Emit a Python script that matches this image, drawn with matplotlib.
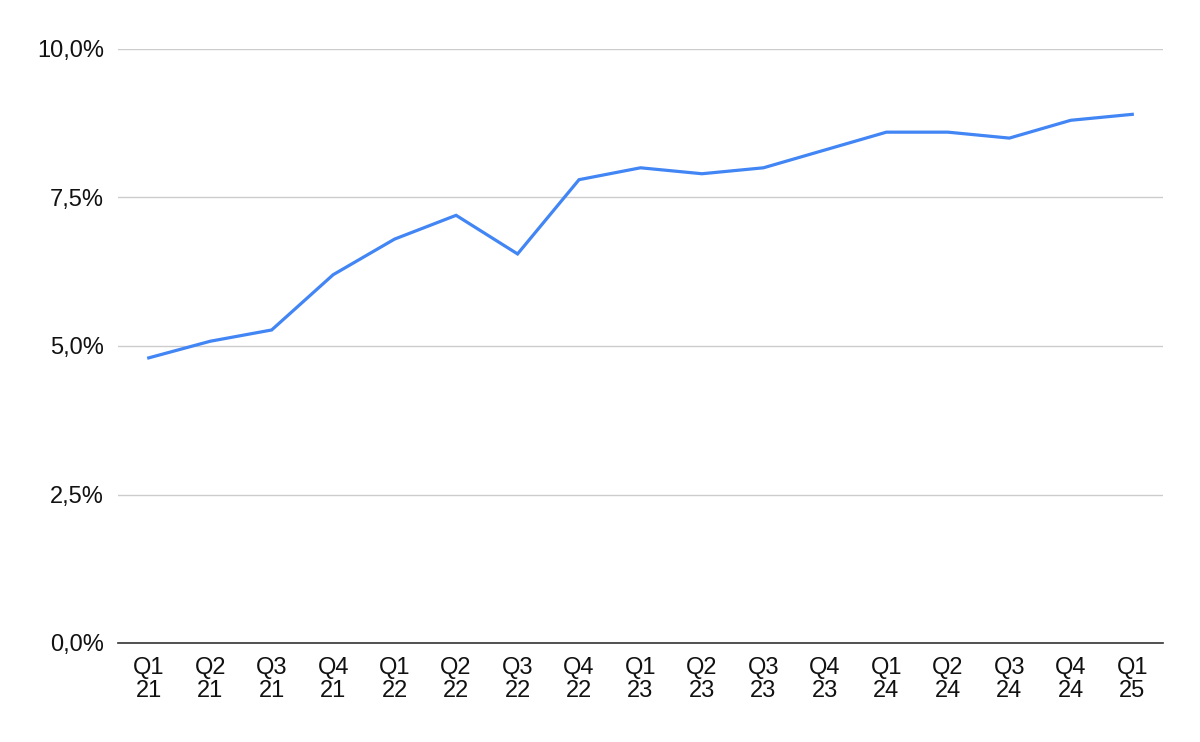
import matplotlib
matplotlib.use("Agg")
import matplotlib.pyplot as plt
from matplotlib.ticker import FuncFormatter

quarters = ["Q1\n21", "Q2\n21", "Q3\n21", "Q4\n21", "Q1\n22", "Q2\n22", "Q3\n22", "Q4\n22",
            "Q1\n23", "Q2\n23", "Q3\n23", "Q4\n23", "Q1\n24", "Q2\n24", "Q3\n24", "Q4\n24", "Q1\n25"]
values = [4.80, 5.08, 5.27, 6.20, 6.80, 7.20, 6.55, 7.80,
          8.00, 7.90, 8.00, 8.30, 8.60, 8.60, 8.50, 8.80, 8.90]
yticks = [0, 2.5, 5, 7.5, 10]

plt.rcParams['font.family'] = ['Liberation Sans', 'DejaVu Sans']

fig = plt.figure(figsize=(12, 7.42), dpi=100)
ax = fig.add_axes([118/1200, 1 - 643/742, (1163-118)/1200, (643-49)/742])

x = list(range(len(values)))
ax.plot(x, values, color="#4285F4", linewidth=2.3, solid_joinstyle="miter")
ax.set_xlim(-0.5, len(values) - 0.5)
ax.set_ylim(0, 10)
ax.set_yticks(yticks)
ax.yaxis.set_major_formatter(FuncFormatter(lambda v, p: f"{v:.1f}".replace(".", ",") + "%"))
ax.set_xticks(x)
ax.set_xticklabels(quarters, linespacing=1.07)
ax.grid(axis="y", color="#CCCCCC", linewidth=1)
ax.set_axisbelow(True)
for s in ["top", "right", "left"]:
    ax.spines[s].set_visible(False)
ax.spines["bottom"].set_color("#333333")
ax.spines["bottom"].set_linewidth(1.2)
ax.spines["bottom"].set_zorder(3)
ax.tick_params(axis="both", length=0, labelsize=17, colors="#111111")
ax.tick_params(axis="y", pad=10)
ax.tick_params(axis="x", pad=10)

fig.savefig("out.png", dpi=100)
